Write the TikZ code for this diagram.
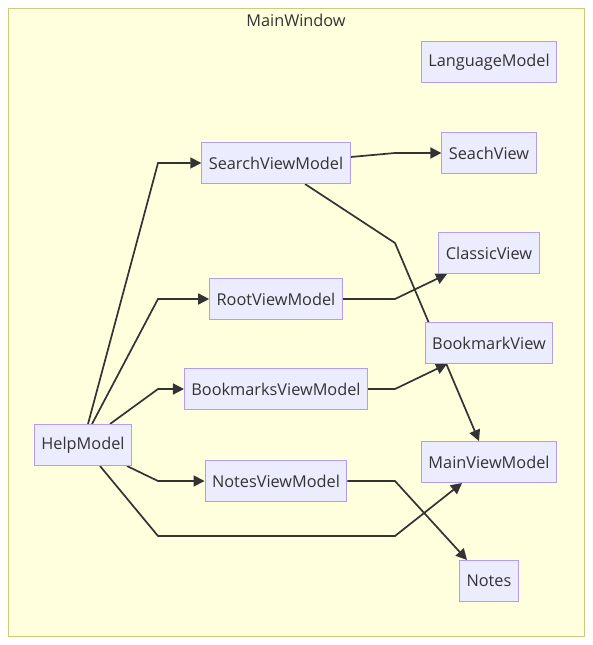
\documentclass[tikz,border=0pt]{standalone}
\usepackage{fontspec}
\setmainfont{Open Sans}
\usetikzlibrary{arrows.meta}
\definecolor{fondcadre}{HTML}{FFFFDE}
\definecolor{traitcadre}{HTML}{CCCC77}
\definecolor{fondnoeud}{HTML}{ECECFF}
\definecolor{traitnoeud}{HTML}{B39DF0}
\definecolor{encre}{HTML}{333333}
\pgfdeclarelayer{fond}
\pgfdeclarelayer{devant}
\pgfsetlayers{fond,main,devant}
\begin{document}
\begin{tikzpicture}[x=1pt,y=-1pt]
			% Styles
			\tikzset{fleche/.style={-{Triangle[length=11pt,width=11pt]},line width=1.7pt,draw=encre}}
			\tikzset{noeud/.style={draw=traitnoeud,fill=fondnoeud,line width=1pt,text=encre,minimum height=41pt,inner xsep=7pt,font=\fontsize{16.3}{18}\selectfont}}
			\tikzset{titre/.style={text=encre,font=\fontsize{16.3}{18}\selectfont}}
			% Dimensions
			\def\ColA{83}
			\def\ColB{276}
			\def\ColC{489}
			\def\CoudeA{158}
			\def\CoudeB{395}
			\useasboundingbox (0,0) rectangle (592,645);
			% Cadre
			\begin{pgfonlayer}{fond}
				\draw[fill=fondcadre,draw=traitcadre,line width=1pt] (8,8) rectangle (584,636);
				\node[titre] (MW) at (296,20) {MainWindow};
			\end{pgfonlayer}
			% Noeuds
			\begin{pgfonlayer}{devant}
				\node[noeud] (LM) at ({\ColC},62) {LanguageModel};
				\node[noeud] (SV) at ({\ColC},153) {SeachView};
				\node[noeud] (CV) at ({\ColC},253) {ClassicView};
				\node[noeud] (BV) at ({\ColC},343) {BookmarkView};
				\node[noeud] (MVM) at ({\ColC},462) {MainViewModel};
				\node[noeud] (N) at ({\ColC},581) {Notes};
				\node[noeud] (SVM) at ({\ColB},163) {SearchViewModel};
				\node[noeud] (RVM) at ({\ColB},299) {RootViewModel};
				\node[noeud] (BVM) at ({\ColB},389) {BookmarksViewModel};
				\node[noeud] (NVM) at ({\ColB},481) {NotesViewModel};
				\node[noeud] (HM) at ({\ColA},445) {HelpModel};
			\end{pgfonlayer}
			% Arcs
			\draw[fleche] ([xshift=5pt]HM.north) -- ({\CoudeA},0 |- SVM.west) -- (SVM.west);
			\draw[fleche] ([xshift=9pt]HM.north) -- ({\CoudeA},0 |- RVM.west) -- (RVM.west);
			\draw[fleche] ([xshift=27pt]HM.north) -- ({\CoudeA},0 |- BVM.west) -- (BVM.west);
			\draw[fleche] ([xshift=44pt]HM.south) -- ({\CoudeA},0 |- NVM.west) -- (NVM.west);
			\draw[fleche] ([xshift=17pt]HM.south) -- ({\CoudeA},536) -- ({\CoudeB},536) -- ([xshift=-27pt]MVM.south);
			\draw[fleche] ([yshift=6pt]SVM.east) -- ({\CoudeB},0 |- SV.west) -- (SV.west);
			\draw[fleche] ([xshift=29pt]SVM.south) -- ({\CoudeB},243) -- ([xshift=-10pt]MVM.north);
			\draw[fleche] (RVM.east) -- ({\CoudeB},0 |- RVM.east) -- ([xshift=-42pt]CV.south);
			\draw[fleche] (BVM.east) -- ({\CoudeB},0 |- BVM.east) -- ([xshift=-42pt]BV.south);
			\draw[fleche] (NVM.east) -- ({\CoudeB},0 |- NVM.east) -- ([xshift=-22pt]N.north);
		\end{tikzpicture}
\end{document}
